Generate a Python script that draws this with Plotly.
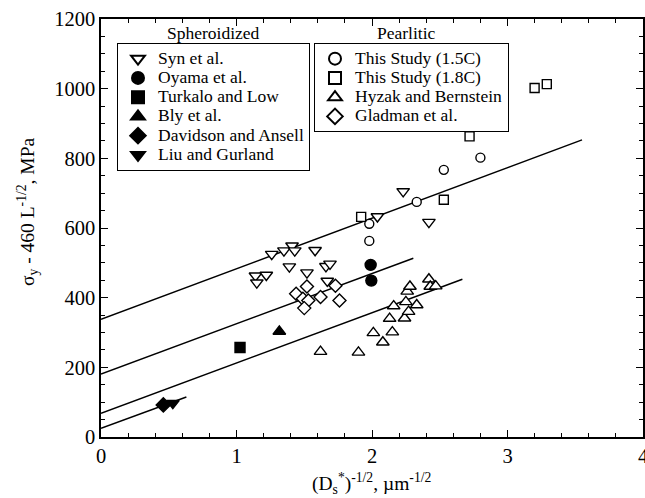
import plotly.graph_objects as go

# ---- data ----
syn_x = [1.14, 1.15, 1.22, 1.26, 1.35, 1.39, 1.41, 1.43, 1.52, 1.58, 1.66, 1.69, 1.67, 2.04, 2.23, 2.42]
syn_y = [463, 443, 465, 525, 535, 489, 549, 535, 472, 536, 490, 497, 448, 633, 705, 617]
oyama_x = [1.99, 1.995]
oyama_y = [494, 449]
turkalo_x = [1.026]
turkalo_y = [257]
bly_x = [1.316]
bly_y = [303]
davidson_x = [0.46]
davidson_y = [92]
liu_x = [0.53]
liu_y = [97]

c15_x = [1.98, 1.98, 2.33, 2.53, 2.80]
c15_y = [612, 563, 675, 767, 802]
c18_x = [1.92, 2.53, 2.72, 3.20, 3.29]
c18_y = [632, 681, 863, 1002, 1013]
hyzak_x = [1.62, 1.90, 2.01, 2.08, 2.13, 2.15, 2.16, 2.24, 2.25, 2.27, 2.33, 2.26, 2.28, 2.42, 2.43, 2.47]
hyzak_y = [245, 243, 299, 272, 340, 301, 376, 341, 388, 360, 379, 418, 432, 453, 432, 433]
glad_x = [1.44, 1.52, 1.49, 1.53, 1.50, 1.62, 1.73, 1.76]
glad_y = [411, 432, 397, 392, 370, 402, 434, 392]

# fitted lines (end points)
fit_x = [[0, 3.55], [0, 2.305], [0, 2.667], [0, 0.63]]
fit_y = [[338, 853], [181, 513], [68, 453], [25, 115]]

FONT = "Liberation Serif"
ML, MR, MT, MB = 101, 2, 19, 61
W, H = 645, 498
PW, PH = W - ML - MR, H - MT - MB


def px2paper(px, py):
    return (px - ML) / PW, (H - MB - py) / PH


fig = go.Figure()

for fx, fy in zip(fit_x, fit_y):
    fig.add_trace(go.Scatter(x=fx, y=fy, mode="lines", line=dict(color="black", width=1.5),
                             showlegend=False, hoverinfo="skip"))


def add(x, y, name, symbol, filled, legend, size=10):
    fig.add_trace(go.Scatter(
        x=x, y=y, mode="markers", legend=legend,
        name='<span style="font-size:17.5px">' + name + '</span>',
        marker=dict(symbol=symbol, size=size,
                    color="black" if filled else "white",
                    line=dict(color="black", width=1.4))))


add(syn_x, syn_y, "Syn et al.", "triangle-down", False, "legend", 11)
add(oyama_x, oyama_y, "Oyama et al.", "circle", True, "legend", 11)
add(turkalo_x, turkalo_y, "Turkalo and Low", "square", True, "legend", 10)
add(bly_x, bly_y, "Bly et al.", "triangle-up", True, "legend", 11)
add(davidson_x, davidson_y, "Davidson and Ansell", "diamond", True, "legend", 11)
add(liu_x, liu_y, "Liu and Gurland", "triangle-down", True, "legend", 11)

add(c15_x, c15_y, "This Study (1.5C)", "circle", False, "legend2", 9)
add(c18_x, c18_y, "This Study (1.8C)", "square", False, "legend2", 9)
add(hyzak_x, hyzak_y, "Hyzak and Bernstein", "triangle-up", False, "legend2", 11)
add(glad_x, glad_y, "Gladman et al.", "diamond", False, "legend2", 10)

axis_common = dict(showline=True, linecolor="black", linewidth=1.5, mirror="allticks",
                   ticks="inside", ticklen=7, tickwidth=1.3, tickcolor="black",
                   showgrid=False, zeroline=False, automargin=False,
                   ticklabeloverflow="allow",
                   tickfont=dict(family=FONT, size=20.5, color="black"))

fig.update_xaxes(range=[0, 4], dtick=1, tick0=0,
                 minor=dict(dtick=0.2, ticks="inside", ticklen=4, tickwidth=1.1, tickcolor="black"),
                 **axis_common)
fig.update_yaxes(range=[0, 1200], dtick=200, tick0=0,
                 minor=dict(dtick=50, ticks="inside", ticklen=4, tickwidth=1.1, tickcolor="black"),
                 **axis_common)

leg_common = dict(bgcolor="white", bordercolor="black", borderwidth=1,
                  font=dict(family=FONT, size=12.5, color="black"),
                  xanchor="left", yanchor="top", tracegroupgap=0, itemsizing="constant")

l1 = px2paper(117, 43)
l2 = px2paper(314, 43)
t1 = px2paper(213, 33)
t2 = px2paper(406, 33)
xt = px2paper(372, 483)
yt = px2paper(27, 212)

title_font = dict(family=FONT, size=17.5, color="black")
axis_font = dict(family=FONT, size=19.5, color="black")

fig.update_layout(
    width=W, height=H,
    margin=dict(l=ML, r=MR, t=MT, b=MB, autoexpand=False),
    paper_bgcolor="white", plot_bgcolor="white",
    showlegend=True,
    legend=dict(x=l1[0], y=l1[1], **leg_common),
    legend2=dict(x=l2[0], y=l2[1], **leg_common),
    annotations=[
        dict(text="Spheroidized", x=t1[0], y=t1[1], xref="paper", yref="paper",
             xanchor="center", yanchor="middle", showarrow=False, font=title_font),
        dict(text="Pearlitic", x=t2[0], y=t2[1], xref="paper", yref="paper",
             xanchor="center", yanchor="middle", showarrow=False, font=title_font),
        dict(text="(D<sub>s</sub><sup>*</sup>)<sup>-1/2</sup>, µm<sup>-1/2</sup>",
             x=xt[0], y=xt[1], xref="paper", yref="paper",
             xanchor="center", yanchor="middle", showarrow=False, font=axis_font),
        dict(text="σ<sub>y</sub> - 460 L<sup>-1/2</sup>, MPa",
             x=yt[0], y=yt[1], xref="paper", yref="paper", textangle=-90,
             xanchor="center", yanchor="middle", showarrow=False, font=axis_font),
    ],
)

fig.write_html("out.html", config={"displayModeBar": False},
               post_script="document.body.style.margin='0px';document.body.style.overflow='hidden';")
